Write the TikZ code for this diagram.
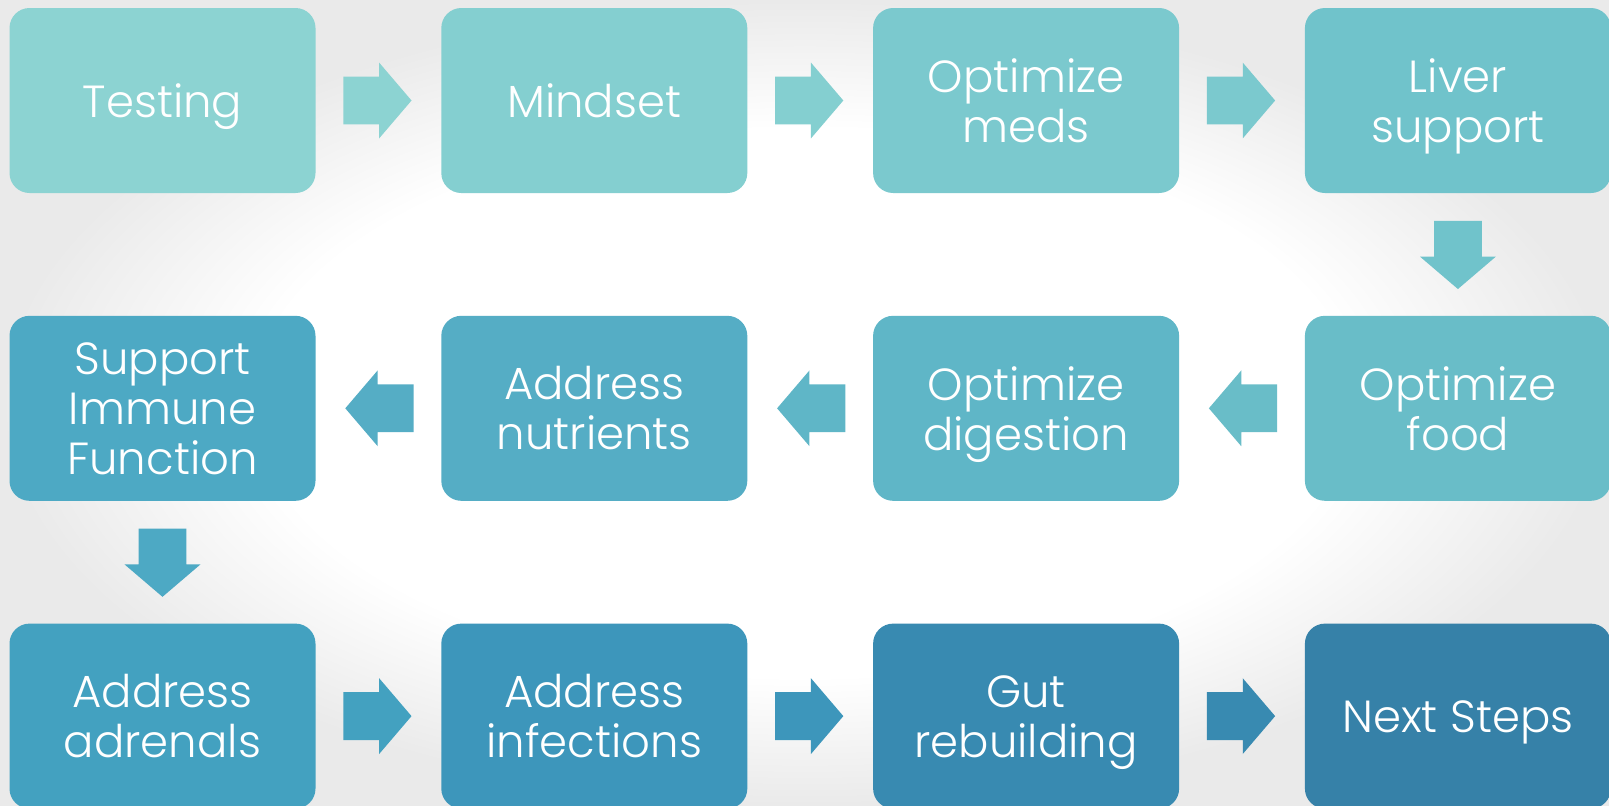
\documentclass[tikz,border=0pt]{standalone}
\usepackage{fontspec}
\setmainfont{Poppins}[UprightFont={* Light}]
\usetikzlibrary{positioning,shapes.arrows,calc}

\definecolor{bggray}{HTML}{EAEAEA}
\definecolor{stepA}{HTML}{8CD3D2}
\definecolor{stepB}{HTML}{84CFD0}
\definecolor{stepC}{HTML}{7BC9CE}
\definecolor{stepD}{HTML}{70C3CB}
\definecolor{stepE}{HTML}{69BDC8}
\definecolor{stepF}{HTML}{5FB6C7}
\definecolor{stepG}{HTML}{55ADC5}
\definecolor{stepH}{HTML}{4DA9C4}
\definecolor{stepI}{HTML}{43A1C0}
\definecolor{stepJ}{HTML}{3D96BB}
\definecolor{stepK}{HTML}{388AB1}
\definecolor{stepL}{HTML}{3681A8}

% white middle, grey towards the edges
\pgfdeclareradialshading{slidebg}{\pgfpointorigin}{color(0bp)=(white);
  color(17bp)=(white); color(25bp)=(bggray); color(50bp)=(bggray)}

\tikzset{
  stepbox/.style={rounded corners=10pt,minimum width=153pt,minimum height=92.5pt,
    align=center,text=white,text depth=0pt,font=\fontsize{22.5}{25}\selectfont},
  flowarrow/.style={single arrow,anchor=tail,minimum height=33pt,minimum width=37.5pt,
    inner sep=11.75pt,single arrow head extend=7pt,single arrow tip angle=99}
}

\begin{document}
\begin{tikzpicture}[node distance=61pt and 62.5pt]
  \shade[shading=slidebg] (0,0) rectangle (804.5pt,-402.5pt);
  \useasboundingbox (0,0) rectangle (804.5pt,-402.5pt);

  % top row, left to right
  \node[stepbox,fill=stepA] (testing) at (81.25pt,-50.25pt) {Testing};
  \node[stepbox,fill=stepB,right=of testing] (mindset) {Mindset};
  \node[stepbox,fill=stepC,right=of mindset] (meds) {Optimize\\meds};
  \node[stepbox,fill=stepD,right=of meds] (liver) {Liver\\support};

  % middle row, right to left
  \node[stepbox,fill=stepE,below=of liver] (food) {Optimize\\food};
  \node[stepbox,fill=stepF,left=of food] (digestion) {Optimize\\digestion};
  \node[stepbox,fill=stepG,left=of digestion] (nutrients) {Address\\nutrients};
  \node[stepbox,fill=stepH,left=of nutrients] (immune) {Support\\Immune\\Function};

  % bottom row, left to right
  \node[stepbox,fill=stepI,below=of immune] (adrenals) {Address\\adrenals};
  \node[stepbox,fill=stepJ,right=of adrenals] (infections) {Address\\infections};
  \node[stepbox,fill=stepK,right=of infections] (gut) {Gut\\rebuilding};
  \node[stepbox,fill=stepL,right=of gut] (nextsteps) {Next Steps};

  % block arrows, tail 13.5pt off the box they leave
  \node[flowarrow,fill=stepA] (a1) at ($(testing.east)!13.5pt!(mindset.west)$) {};
  \node[flowarrow,fill=stepB] (a2) at ($(mindset.east)!13.5pt!(meds.west)$) {};
  \node[flowarrow,fill=stepC] (a3) at ($(meds.east)!13.5pt!(liver.west)$) {};
  \node[flowarrow,fill=stepD,shape border rotate=270] (a4) at ($(liver.south)!13.5pt!(food.north)$) {};
  \node[flowarrow,fill=stepE,shape border rotate=180] (a5) at ($(food.west)!13.5pt!(digestion.east)$) {};
  \node[flowarrow,fill=stepF,shape border rotate=180] (a6) at ($(digestion.west)!13.5pt!(nutrients.east)$) {};
  \node[flowarrow,fill=stepG,shape border rotate=180] (a7) at ($(nutrients.west)!13.5pt!(immune.east)$) {};
  \node[flowarrow,fill=stepH,shape border rotate=270] (a8) at ($(immune.south)!13.5pt!(adrenals.north)$) {};
  \node[flowarrow,fill=stepI] (a9) at ($(adrenals.east)!13.5pt!(infections.west)$) {};
  \node[flowarrow,fill=stepJ] (a10) at ($(infections.east)!13.5pt!(gut.west)$) {};
  \node[flowarrow,fill=stepK] (a11) at ($(gut.east)!13.5pt!(nextsteps.west)$) {};
\end{tikzpicture}
\end{document}
